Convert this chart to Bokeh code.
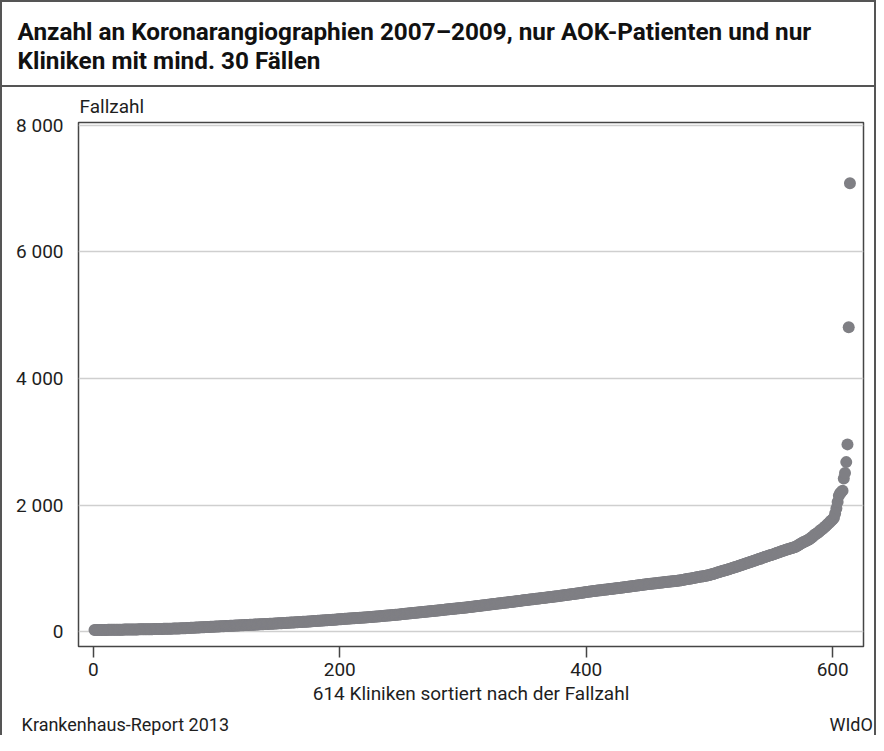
from bokeh.plotting import figure
from bokeh.models import Range1d, FixedTicker, Title, LinearAxis
from bokeh.embed import file_html
from bokeh.resources import INLINE

# ---------------- data ----------------
title_lines = ["Anzahl an Koronarangiographien 2007\u20132009, nur AOK-Patienten und nur",
               "Kliniken mit mind. 30 F\u00e4llen"]
y_title = "Fallzahl"
x_title = "614 Kliniken sortiert nach der Fallzahl"
source_left = "Krankenhaus-Report 2013"
source_right = "WIdO"

x_tick_values = [0, 200, 400, 600]
y_tick_values = [0, 2000, 4000, 6000, 8000]
y_tick_labels = ["0", "2 000", "4 000", "6 000", "8 000"]

fall_001_100 = [30,30,30,30,31,31,31,31,32,32,32,33,33,33,33,34,34,34,35,35,35,36,36,36,37,
                37,37,38,38,38,39,39,39,40,40,40,41,41,41,42,42,42,43,43,43,44,44,44,45,45,
                46,46,47,47,48,48,49,49,50,50,51,51,52,52,53,53,54,54,55,56,57,57,58,59,60,
                61,62,63,64,65,66,67,68,69,70,71,72,73,74,75,76,77,78,79,80,81,82,83,84,85]
fall_101_200 = [86,87,88,89,90,91,92,93,94,95,96,97,98,99,100,101,102,103,104,105,106,107,108,109,110,
                111,112,113,114,115,116,117,118,119,120,121,122,123,124,125,126,127,128,129,130,131,132,133,134,135,
                136,137,138,140,141,142,143,144,146,147,148,149,150,152,153,154,155,156,158,159,160,161,162,164,165,
                166,168,169,171,172,173,175,176,178,179,180,182,183,185,186,187,189,190,192,193,194,196,197,199,200]
fall_201_300 = [201,203,204,206,207,208,210,211,213,214,215,217,218,220,221,222,224,225,227,228,229,231,232,234,235,
                237,238,240,242,244,245,247,249,251,252,254,256,258,259,261,263,265,266,268,270,272,273,275,277,280,
                282,284,286,288,290,292,294,296,298,300,302,304,306,308,310,312,314,316,318,320,322,324,326,328,330,
                332,334,336,338,340,342,344,346,348,350,352,354,356,358,360,362,364,366,368,370,372,374,376,378,380]
fall_301_400 = [382,385,387,390,392,394,397,399,402,404,406,409,411,414,416,418,421,423,426,428,430,433,435,438,440,
                442,445,447,450,452,454,457,459,462,464,466,469,471,474,476,478,481,483,486,488,490,493,495,498,500,
                502,505,507,510,512,514,517,519,522,524,526,529,531,534,536,538,541,543,546,548,550,553,555,558,560,
                563,565,568,571,573,576,579,581,584,587,590,592,595,598,600,603,606,608,611,614,617,619,622,625,630]
fall_401_500 = [632,635,637,640,642,644,647,649,652,654,656,659,661,664,666,668,671,673,676,678,680,683,685,688,690,
                693,695,698,700,703,705,708,710,713,716,718,721,723,726,729,731,734,736,739,742,744,747,749,752,755,
                757,759,761,764,766,768,770,772,775,777,779,781,783,786,788,790,792,794,797,799,801,803,805,808,810,
                813,817,820,824,827,831,834,838,841,845,848,852,855,859,862,866,869,873,876,880,883,887,890,894,900]
fall_501_600 = [905,911,916,922,928,934,940,946,952,958,964,970,975,981,987,993,999,1005,1011,1017,1023,1029,1035,1043,1050,
                1056,1063,1069,1076,1082,1089,1096,1102,1109,1116,1122,1129,1136,1142,1149,1156,1162,1169,1176,1182,1189,1196,1202,1209,1215,
                1220,1227,1234,1241,1248,1255,1262,1269,1276,1283,1289,1295,1301,1307,1313,1319,1325,1331,1338,1345,1356,1367,1378,1390,1405,
                1414,1423,1432,1441,1450,1464,1478,1492,1506,1530,1540,1553,1566,1580,1600,1615,1630,1648,1665,1685,1705,1720,1740,1760,1780]
fall_601_614 = [1800,1870,1950,2050,2150,2190,2210,2230,2420,2510,2680,2960,4810,7080]

fallzahl = (fall_001_100 + fall_101_200 + fall_201_300 + fall_301_400
            + fall_401_500 + fall_501_600 + fall_601_614)
rang = list(range(1, len(fallzahl) + 1))

# where the two source notes sit along the bottom row (x-axis units)
source_positions = [26, 615]

# ---------------- styling ----------------
FONT = "Roboto"
TXT = "#1e1e1e"
DOT = "#7f7f84"
FRAME = "#454545"
RULE = "#555555"

p = figure(width=872, height=733, output_backend="svg", toolbar_location=None, title=None,
           x_range=Range1d(-12, 625), y_range=Range1d(-230, 8040),
           min_border_left=76, min_border_right=15, min_border_top=119, min_border_bottom=89)
p.background_fill_color = "white"
p.border_fill_color = None
p.outline_line_color = FRAME
p.outline_line_width = 1.5
# outer frame of the graphic and the rule under the heading
p.styles = {
    "box-sizing": "content-box",
    "border-top": f"2px solid {RULE}",
    "border-left": f"2px solid {RULE}",
    "border-right": f"2px solid {RULE}",
    "background": f"linear-gradient({RULE}, {RULE}) 0px 83px / 100% 2px no-repeat, #ffffff",
}

p.scatter(rang, fallzahl, size=12, fill_color=DOT, line_color=None)

# axes
p.xaxis.ticker = FixedTicker(ticks=x_tick_values)
p.yaxis.ticker = FixedTicker(ticks=y_tick_values)
p.yaxis.major_label_overrides = {v: s for v, s in zip(y_tick_values, y_tick_labels)}
p.xaxis.axis_line_color = None
p.yaxis.axis_line_color = None
p.xaxis.major_tick_out = 11
p.xaxis.major_tick_in = 0
p.xaxis.major_tick_line_color = FRAME
p.xaxis.major_tick_line_width = 1.5
p.xaxis.minor_tick_line_color = None
p.yaxis.major_tick_line_color = None
p.yaxis.minor_tick_line_color = None
for ax in (p.xaxis, p.yaxis):
    ax.major_label_text_font = FONT
    ax.major_label_text_font_size = "19px"
    ax.major_label_text_color = TXT
p.yaxis.major_label_standoff = 9
p.xaxis.major_label_standoff = 5
p.xaxis.axis_label = x_title
p.xaxis.axis_label_text_font = FONT
p.xaxis.axis_label_text_font_size = "19px"
p.xaxis.axis_label_text_font_style = "normal"
p.xaxis.axis_label_text_color = TXT
p.xaxis.axis_label_standoff = 3

# bottom row: source notes
src_axis = LinearAxis(ticker=FixedTicker(ticks=source_positions),
                      major_label_overrides={source_positions[0]: source_left,
                                             source_positions[1]: source_right},
                      axis_line_color=None, major_tick_line_color=None,
                      minor_tick_line_color=None, major_label_standoff=0,
                      major_label_text_font=FONT, major_label_text_font_size="18px",
                      major_label_text_color=TXT)
p.add_layout(src_axis, "below")

# grid
p.xgrid.grid_line_color = None
p.ygrid.grid_line_color = "#cfcfcf"
p.ygrid.grid_line_width = 1.3

# y-axis caption (nearest to the frame) and two-line heading
p.add_layout(Title(text=y_title, align="left", offset=1, standoff=10,
                   text_font=FONT, text_font_size="19px", text_font_style="normal",
                   text_color=TXT), "above")
p.add_layout(Title(text="\n".join(title_lines), align="left", offset=-61, standoff=25,
                   text_font=FONT, text_font_size="24.3px", text_font_style="bold",
                   text_line_height=1.0, text_color="#111111"), "above")

open("out.html", "w").write(file_html(p, INLINE))
